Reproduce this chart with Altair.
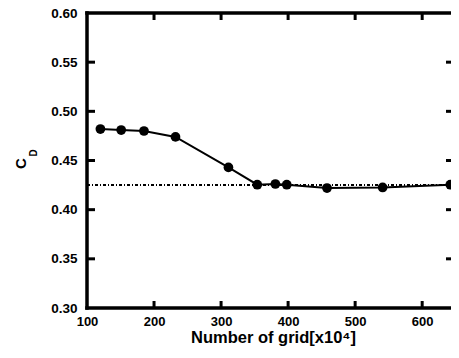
import altair as alt
import pandas as pd

grid = [120, 151, 185, 232, 311, 354, 381, 398, 458, 541, 642]
cd = [0.482, 0.481, 0.480, 0.474, 0.443, 0.4254, 0.4261, 0.4254, 0.4220, 0.4226, 0.4254]
ref_cd = [0.425]
x_ticks = [200, 300, 400, 500, 600]
y_ticks = [0.35, 0.40, 0.45, 0.50, 0.55]

W, H = 364, 295
FONT = "Liberation Sans"

df = pd.DataFrame({"grid": grid, "cd": cd})
xs = alt.Scale(domain=[100, 643], nice=False, zero=False)
ys = alt.Scale(domain=[0.30, 0.60], nice=False, zero=False)

xaxis = alt.Axis(values=[100, 200, 300, 400, 500, 600], format="d", grid=False, ticks=False,
                 tickSize=0, domain=False, labelFont=FONT, labelFontSize=13, labelFlush=False,
                 labelFontWeight="bold", labelColor="black", labelPadding=7,
                 title="Number of grid[x10\u2074]", titleFont=FONT, titleFontSize=16.5,
                 titleFontWeight="bold", titleColor="black", titleBaseline="alphabetic",
                 titleY=34, titleX=186)
yaxis = alt.Axis(values=[0.30, 0.35, 0.40, 0.45, 0.50, 0.55, 0.60], format=".2f", grid=False,
                 ticks=False, tickSize=0, domain=False, labelFont=FONT, labelFontSize=13.5,
                 labelFlush=False,
                 labelFontWeight="bold", labelColor="black", labelPadding=10,
                 title="C", titleFont=FONT, titleFontSize=15, titleFontWeight="bold",
                 titleColor="black", titleAngle=270, titleAlign="center",
                 titleBaseline="alphabetic", titleX=-62, titleY=150)

base = alt.Chart(df)
line = base.mark_line(color="black", strokeWidth=2).encode(
    x=alt.X("grid:Q", scale=xs, axis=xaxis),
    y=alt.Y("cd:Q", scale=ys, axis=yaxis),
)
pts = base.mark_circle(color="black", opacity=1, size=95).encode(
    x=alt.X("grid:Q", scale=xs), y=alt.Y("cd:Q", scale=ys))

refdf = pd.DataFrame({"v": ref_cd})
ref = alt.Chart(refdf).mark_rule(color="black", strokeWidth=2, strokeDash=[3, 2, 1, 2]).encode(
    y=alt.Y("v:Q", scale=ys), x=alt.value(0), x2=alt.value(W))

f_top = alt.Chart(refdf).mark_rule(color="black", strokeWidth=3.5).encode(
    x=alt.value(-1.75), x2=alt.value(W), y=alt.value(0))
f_bot = alt.Chart(refdf).mark_rule(color="black", strokeWidth=3.5).encode(
    x=alt.value(-1.75), x2=alt.value(W), y=alt.value(H))
f_left = alt.Chart(refdf).mark_rule(color="black", strokeWidth=3.5).encode(
    x=alt.value(0), y=alt.value(-1.75), y2=alt.value(H + 1.75))

xt = pd.DataFrame({"t": x_ticks})
yt = pd.DataFrame({"t": y_ticks})
tb = alt.Chart(xt).mark_rule(color="black", strokeWidth=3).encode(
    x=alt.X("t:Q", scale=xs), y=alt.value(H), y2=alt.value(H - 7))
tt = alt.Chart(xt).mark_rule(color="black", strokeWidth=3).encode(
    x=alt.X("t:Q", scale=xs), y=alt.value(0), y2=alt.value(7))
tl = alt.Chart(yt).mark_rule(color="black", strokeWidth=3).encode(
    y=alt.Y("t:Q", scale=ys), x=alt.value(0), x2=alt.value(8))
tr = alt.Chart(yt).mark_rule(color="black", strokeWidth=3).encode(
    y=alt.Y("t:Q", scale=ys), x=alt.value(W), x2=alt.value(W - 5))

sub = alt.Chart(pd.DataFrame({"s": ["D"]})).mark_text(
    font=FONT, fontSize=10, fontWeight="bold", color="black", angle=270,
    align="center", baseline="alphabetic").encode(
    text="s:N", x=alt.value(-50), y=alt.value(140))

chart = alt.layer(ref, line, pts, f_top, f_bot, f_left, tb, tt, tl, tr, sub).properties(
    width=W, height=H, autosize=alt.AutoSizeParams(type="none"),
    padding={"left": 79, "top": 5, "right": 0, "bottom": 38},
).configure_view(strokeWidth=0).configure(background="white")

chart.save("out.html", embed_options={"renderer": "svg", "actions": False})
